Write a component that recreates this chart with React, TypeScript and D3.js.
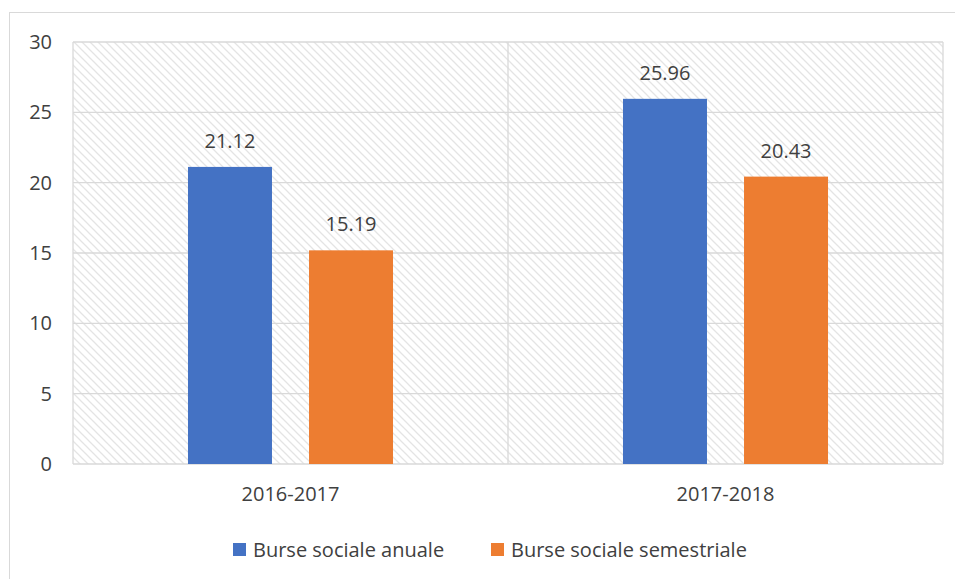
import React from "react";
import * as d3 from "d3";

const categories = ["2016-2017", "2017-2018"];
const seriesNames = ["Burse sociale anuale", "Burse sociale semestriale"];
const anuale = [21.12, 25.96];
const semestriale = [15.19, 20.43];
const yTicks = [0, 5, 10, 15, 20, 25, 30];
const colors = ["#4472C4", "#ED7D31"];

export default function App() {
  const W = 955, H = 579;
  const left = 73, right = 943, top = 42, bottom = 464;
  const x0 = d3.scaleBand<string>().domain(categories).range([left, right]).paddingInner(0).paddingOuter(0);
  const x1 = d3.scaleBand<string>().domain(seriesNames).range([0, x0.bandwidth()]).paddingInner(0.306).paddingOuter(0.95);
  const y = d3.scaleLinear().domain([0, 30]).range([bottom, top]);
  const series = [anuale, semestriale];
  const font = "'Open Sans', 'Liberation Sans', sans-serif";
  const fs = 20;
  return (
    <svg width={W} height={H} style={{ position: "absolute", left: 0, top: 0 }} fontFamily={font}>
      <defs>
        <pattern id="hatch" patternUnits="userSpaceOnUse" width="8" height="8">
          <path d="M-2,-2 L10,10 M-2,6 L2,10 M6,-2 L10,2" stroke="#e4e4e4" strokeWidth="1.3" />
        </pattern>
      </defs>
      <rect x={0} y={0} width={W} height={H} fill="#fff" />
      <rect x={9.5} y={12.5} width={W + 10} height={H + 10} fill="none" stroke="#d9d9d9" strokeWidth={1} />
      <rect x={left} y={top} width={right - left} height={bottom - top} fill="url(#hatch)" />
      {yTicks.map((t) => (
        <g key={t}>
          <line x1={left} x2={right} y1={y(t)} y2={y(t)} stroke="#d9d9d9" strokeWidth={1.3} />
          <text x={52} y={y(t)} dy="0.35em" textAnchor="end" fontSize={fs} fill="#404040">{t}</text>
        </g>
      ))}
      {[left, left + x0.bandwidth(), right].map((xv, i) => (
        <line key={i} x1={xv} x2={xv} y1={top} y2={bottom} stroke="#d9d9d9" strokeWidth={1.3} />
      ))}
      {categories.map((c, ci) => (
        <g key={c}>
          {series.map((s, si) => {
            const bx = (x0(c) as number) + (x1(seriesNames[si]) as number);
            const bw = x1.bandwidth();
            return (
              <g key={si}>
                <rect x={bx} y={y(s[ci])} width={bw} height={bottom - y(s[ci])} fill={colors[si]} />
                <text x={bx + bw / 2} y={y(s[ci]) - 19} textAnchor="middle" fontSize={fs} fill="#404040">{s[ci].toFixed(2)}</text>
              </g>
            );
          })}
          <text x={(x0(c) as number) + x0.bandwidth() / 2} y={501} textAnchor="middle" fontSize={fs} fill="#404040">{c}</text>
        </g>
      ))}
      {seriesNames.map((n, i) => {
        const lx = [233, 491][i];
        return (
          <g key={n}>
            <rect x={lx} y={543} width={13} height={13} fill={colors[i]} />
            <text x={lx + 20} y={550} dy="0.35em" fontSize={fs} fill="#404040">{n}</text>
          </g>
        );
      })}
    </svg>
  );
}
